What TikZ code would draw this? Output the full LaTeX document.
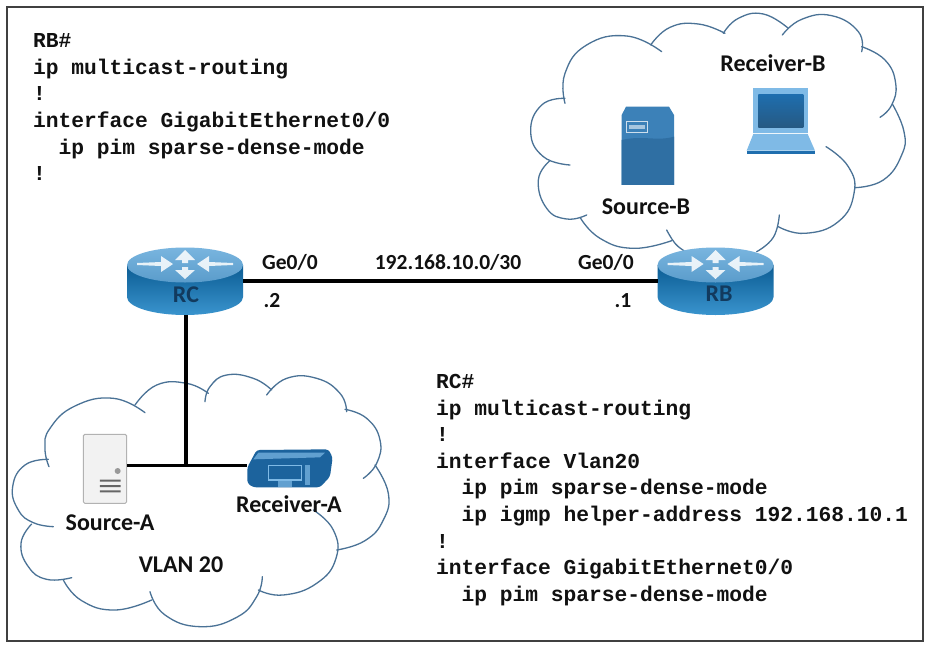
\documentclass[tikz,border=0pt]{standalone}
\usepackage{fontspec}
\setmainfont{Carlito}
\newfontfamily\codefont{Liberation Mono}
\definecolor{cloudc}{HTML}{4A7296}
\definecolor{rtop}{HTML}{79B5DF}
\definecolor{rtopb}{HTML}{5A9CCB}
\definecolor{rsidea}{HTML}{0B5C93}
\definecolor{rsideb}{HTML}{3A94CE}
\definecolor{srvb}{HTML}{3C81B8}
\definecolor{srvd}{HTML}{2F6FA3}
\definecolor{lapd}{HTML}{1F6EAE}
\definecolor{lapl}{HTML}{7FBAE6}
\definecolor{txtc}{HTML}{111111}
\definecolor{rtxt}{HTML}{123A5E}
\tikzset{
  cloudline/.style={draw=cloudc,line width=1.3pt,line cap=round},
  link/.style={draw=black,line width=3.4pt},
  devicebox/.style={inner sep=0pt,outer sep=0pt,draw=none},
  lbl/.style={font=\fontsize{24}{28}\selectfont\bfseries,text=txtc,inner sep=0pt},
  linklbl/.style={font=\fontsize{21.5}{26}\selectfont\bfseries,text=txtc,inner sep=0pt},
  rlbl/.style={font=\fontsize{24}{28}\selectfont\bfseries,text=rtxt,inner sep=0pt},
  codeblock/.style={font=\codefont\fontsize{21.25}{26.6}\selectfont\bfseries,align=left,anchor=north west,inner sep=0pt,text=txtc},
}
\newcommand{\routericon}[2]{%
  \begin{scope}[shift={(#1,#2)}]
    \shade[top color=rsidea,bottom color=rsideb] (-58,-16) -- (-58,16) arc[start angle=180,end angle=360,x radius=58pt,y radius=18pt] -- (58,-16) -- cycle;
    \shade[top color=rtop,bottom color=rtopb] (0,-16) ellipse[x radius=58pt,y radius=17.5pt];
    \begin{scope}[opacity=.85]
    \fill[white] (0,-31) -- (-10,-21) -- (-3,-21) -- (-3,-18) -- (3,-18) -- (3,-21) -- (10,-21) -- cycle;
    \fill[white] (0,-2) -- (-10,-11) -- (-3,-11) -- (-3,-14) -- (3,-14) -- (3,-11) -- (10,-11) -- cycle;
    \fill[white] (-12,-17) -- (-24,-25) -- (-24,-19) -- (-48,-18) -- (-48,-16) -- (-24,-15) -- (-24,-9) -- cycle;
    \fill[white] (12,-17) -- (24,-25) -- (24,-19) -- (48,-18) -- (48,-16) -- (24,-15) -- (24,-9) -- cycle;
    \end{scope}
  \end{scope}}
\begin{document}
\begin{tikzpicture}[x=1pt,y=-1pt]
\useasboundingbox (0,0) rectangle (931,650);
\fill[white] (0,0) rectangle (931,650);
\draw[draw=black!75,line width=1.4pt] (7,7) rectangle (923,641);

% cloud B (drawn in 3x zoom coordinates)
\begin{scope}[shift={(530,0)},x=0.33333pt,y=-0.33333pt]
\draw[cloudline] plot[smooth,tension=.8] coordinates {(395,155) (290,108) (170,135) (105,220) (105,310)};
\draw[cloudline] plot[smooth,tension=.8] coordinates {(105,295) (35,315) (2,395) (40,470) (120,495)};
\draw[cloudline] plot[smooth,tension=.8] coordinates {(60,482) (25,540) (50,625) (110,657) (170,645)};
\draw[cloudline] plot[smooth,tension=.8] coordinates {(150,652) (210,715) (310,745) (425,722)};
\draw[cloudline] plot[smooth,tension=.8] coordinates {(410,690) (435,730) (462,752)};
\draw[cloudline] plot[smooth,tension=.8] coordinates {(680,755) (730,712) (748,645)};
\draw[cloudline] plot[smooth,tension=.8] coordinates {(745,680) (825,700) (925,665) (972,580) (955,500) (888,440)};
\draw[cloudline] plot[smooth,tension=.8] coordinates {(975,563) (1060,540) (1115,465) (1122,395) (1087,312)};
\draw[cloudline] plot[smooth,tension=.8] coordinates {(1050,352) (1085,315) (1097,250) (1065,180) (995,140)};
\draw[cloudline] plot[smooth,tension=.8] coordinates {(995,155) (985,95) (905,47) (815,58) (757,105)};
\draw[cloudline] plot[smooth,tension=.8] coordinates {(775,85) (700,42) (625,55) (580,100)};
\draw[cloudline] plot[smooth,tension=.8] coordinates {(585,100) (505,72) (420,82) (362,135)};
% Source-B server
\fill[srvb] (275,345) -- (288,320) -- (417,320) -- (432,345) -- (432,555) -- (275,555) -- cycle;
\fill[srvd] (275,420) .. controls (340,405) and (380,425) .. (432,410) -- (432,555) -- (275,555) -- cycle;
\draw[draw=white!75!srvb,line width=1pt] (290,366) rectangle (353,398);
\fill[white!55!srvb] (297,376) rectangle (346,388);
% Receiver-B laptop
\fill[lapl] (670,265) -- (833,265) -- (833,400) -- (670,400) -- cycle;
\shade[top color=lapd,bottom color=srvd!80!black] (685,284) rectangle (820,384);
\fill[lapl] (670,402) -- (833,402) -- (855,452) -- (650,452) -- cycle;
\fill[lapd] (650,452) rectangle (855,463);
\end{scope}

% cloud A
\begin{scope}[shift={(0,370)},x=0.33333pt,y=-0.33333pt]
\draw[cloudline] plot[smooth,tension=.8] coordinates {(435,128) (340,85) (225,108) (150,175) (135,235) (147,290)};
\draw[cloudline] plot[smooth,tension=.8] coordinates {(145,268) (75,285) (38,350) (55,420) (100,458) (160,470)};
\draw[cloudline] plot[smooth,tension=.8] coordinates {(95,462) (63,520) (85,590) (140,628) (215,623)};
\draw[cloudline] plot[smooth,tension=.8] coordinates {(190,630) (245,692) (345,720) (455,690)};
\draw[cloudline] plot[smooth,tension=.8] coordinates {(450,665) (495,735) (600,770) (710,742) (770,680) (787,620)};
\draw[cloudline] plot[smooth,tension=.8] coordinates {(775,660) (850,675) (950,640) (1008,565) (1000,480) (940,420)};
\draw[cloudline] plot[smooth,tension=.8] coordinates {(1010,540) (1095,512) (1150,450) (1165,370) (1125,285)};
\draw[cloudline] plot[smooth,tension=.8] coordinates {(1090,325) (1130,280) (1140,210) (1100,145) (1035,118)};
\draw[cloudline] plot[smooth,tension=.8] coordinates {(1040,125) (1020,70) (950,25) (860,25) (800,75)};
\draw[cloudline] plot[smooth,tension=.8] coordinates {(815,60) (760,25) (680,15) (630,50) (615,95)};
\draw[cloudline] plot[smooth,tension=.8] coordinates {(625,70) (560,40) (470,45) (405,105)};
% Source-A server
\draw[draw=black!30,fill=black!5,line width=1pt,rounded corners=1.5pt] (250,193) rectangle (380,400);
\fill[black!40] (353,303) circle[radius=9];
\fill[black!60] (300,329) rectangle (362,335) (300,345) rectangle (362,351) (300,361) rectangle (362,367);
% Receiver-A device
\fill[lapd!90!black,rounded corners=3pt] (742,292) -- (770,240) -- (985,238) -- (998,262) -- (990,320) -- (960,352) -- (760,352) -- (742,340) -- cycle;
\fill[lapl,opacity=.7] (760,268) -- (775,248) -- (975,248) -- (960,262) -- cycle;
\draw[draw=lapl,line width=1.2pt] (805,287) rectangle (905,330);
\fill[lapl,opacity=.7] (915,285) rectangle (930,345);
\fill[lapl,opacity=.7] (835,330) rectangle (875,350);
\end{scope}

% routers
\routericon{185}{281}
\routericon{715.5}{281}

% device anchor nodes
\node[devicebox,minimum width=114pt,minimum height=67pt] (RC) at (186,281) {};
\node[devicebox,minimum width=116pt,minimum height=67pt] (RB) at (715.5,281) {};
\node[devicebox,minimum width=44pt,minimum height=69pt] (SourceA) at (105,468.5) {};
\node[devicebox,minimum width=86pt,minimum height=40pt] (ReceiverA) at (290,465.7) {};
\coordinate (junction) at (RC.south |- ReceiverA.west);
\coordinate (sourceport) at (SourceA.east |- ReceiverA.west);

% connectors
\draw[link] (RC.east) -- (RB.west);
\draw[link] (RC.south) -- (junction);
\draw[link] (sourceport) -- (ReceiverA.west);

% labels
\node[rlbl] (lRC) at (186,295) {RC};
\node[rlbl] (lRB) at (719,294) {RB};
\node[linklbl] (ge1) at (290,262) {Ge0/0};
\node[linklbl] (ge2) at (606,262) {Ge0/0};
\node[linklbl] (net) at (448,262) {192.168.10.0/30};
\node[linklbl] (d2) at (272,301) {.2};
\node[linklbl] (d1) at (623,301) {.1};
\node[lbl] (lRxB) at (773,63) {Receiver-B};
\node[lbl] (lSrcB) at (646,207) {Source-B};
\node[lbl] (lSrcA) at (110,523) {Source-A};
\node[lbl] (lRxA) at (289,504) {Receiver-A};
\node[lbl] (lVlan) at (181,565) {VLAN 20};

% configuration
\node[codeblock] (cfgB) at (33,33.5) {RB\#\\ip multicast-routing\\!\\interface GigabitEthernet0/0\\\ \ ip pim sparse-dense-mode\\!};
\node[codeblock] (cfgC) at (436,374) {RC\#\\ip multicast-routing\\!\\interface Vlan20\\\ \ ip pim sparse-dense-mode\\\ \ ip igmp helper-address 192.168.10.1\\!\\interface GigabitEthernet0/0\\\ \ ip pim sparse-dense-mode};
\end{tikzpicture}
\end{document}
